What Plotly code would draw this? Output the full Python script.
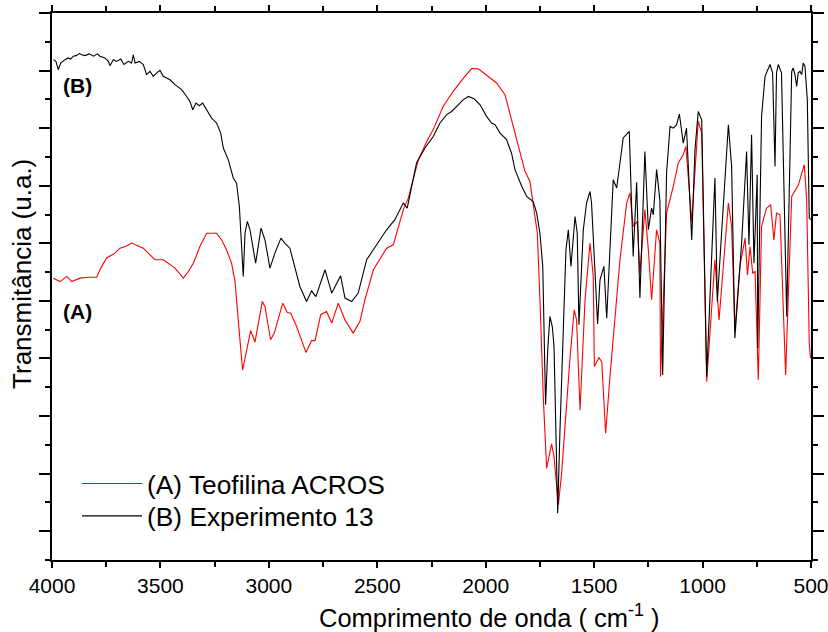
import plotly.graph_objects as go

# ---- Data ----
# (B) Experimento 13 : wavenumber (cm-1) and transmittance (arbitrary units)
wn_b = [3994, 3982, 3971, 3960, 3940, 3925, 3914, 3902, 3889, 3874, 3863, 3848, 3828, 3809, 3791, 3779,
        3756, 3740, 3733, 3717, 3702, 3683, 3668, 3648, 3633, 3625, 3617, 3597, 3579, 3564, 3548, 3533,
        3517, 3502, 3487, 3456, 3433, 3402, 3379, 3364, 3351, 3336, 3321, 3305, 3287, 3264, 3241, 3222,
        3210, 3187, 3164, 3149, 3136, 3126, 3118, 3110, 3099, 3087, 3061, 3036, 3018, 2995, 2972, 2944,
        2926, 2903, 2880, 2857, 2826, 2803, 2783, 2764, 2741, 2710, 2687, 2669, 2649, 2618, 2588, 2565,
        2549, 2503, 2457, 2419, 2380, 2362, 2334, 2319, 2280, 2242, 2211, 2180, 2157, 2134, 2103, 2080,
        2054, 2026, 1996, 1973, 1957, 1934, 1904, 1881, 1865, 1834, 1811, 1781, 1765, 1750, 1737, 1724,
        1714, 1704, 1693, 1685, 1676, 1668, 1658, 1642, 1630, 1619, 1607, 1588, 1578, 1570, 1550, 1535,
        1519, 1512, 1499, 1484, 1473, 1455, 1442, 1430, 1412, 1396, 1381, 1366, 1338, 1320, 1304, 1289,
        1266, 1250, 1235, 1227, 1212, 1197, 1184, 1166, 1150, 1135, 1120, 1107, 1089, 1074, 1050, 1035,
        1020, 1004, 981, 943, 932, 912, 881, 866, 851, 820, 797, 786, 774, 763, 748, 746, 728, 712, 689,
        677, 666, 659, 651, 636, 612, 589, 582, 574, 566, 559, 551, 543, 536, 528, 517, 508, 500]
t_b = [17.38, 17.32, 17.03, 17.26, 17.38, 17.44, 17.40, 17.50, 17.52, 17.59, 17.55, 17.52, 17.58, 17.50,
       17.58, 17.50, 17.44, 17.32, 17.17, 17.38, 17.32, 17.40, 17.21, 17.32, 17.26, 17.55, 17.26, 17.32,
       17.21, 16.86, 16.97, 16.80, 16.92, 17.01, 16.80, 16.68, 16.51, 16.34, 16.10, 15.93, 15.64, 15.87,
       15.78, 15.87, 15.64, 15.35, 15.18, 14.83, 14.31, 13.90, 13.27, 13.09, 12.28, 10.77, 9.85, 11.35,
       11.76, 11.47, 10.31, 11.53, 11.12, 10.14, 10.66, 11.18, 11.00, 10.83, 10.20, 9.50, 8.98, 9.35,
       9.15, 9.60, 10.08, 9.27, 9.62, 9.87, 9.10, 8.98, 9.27, 9.97, 10.43, 10.95, 11.47, 11.82, 12.40,
       12.22, 13.21, 13.79, 14.31, 14.71, 15.18, 15.47, 15.58, 15.76, 15.99, 16.10, 16.02, 15.81, 15.41,
       15.18, 15.12, 14.83, 14.60, 14.13, 13.56, 12.98, 12.63, 12.45, 12.05, 11.35, 10.20, 5.39, 7.30,
       8.46, 8.11, 7.41, 4.40, 1.62, 4.40, 8.11, 10.77, 11.47, 10.20, 11.93, 11.35, 8.17, 11.47, 12.40,
       12.80, 12.40, 10.20, 8.20, 9.73, 10.20, 8.40, 10.20, 13.21, 12.92, 13.90, 14.66, 14.89, 10.54,
       13.12, 9.10, 14.19, 11.47, 12.22, 11.99, 13.56, 12.51, 6.43, 13.44, 15.06, 15.00, 15.12, 15.49,
       14.48, 15.00, 11.12, 14.25, 15.58, 15.29, 6.37, 13.27, 8.98, 11.47, 15.12, 13.67, 7.70, 11.01,
       14.19, 10.95, 14.77, 10.31, 13.38, 7.36, 15.41, 16.80, 17.21, 16.92, 13.67, 16.92, 17.21, 16.92,
       8.46, 16.97, 17.09, 16.86, 16.45, 16.92, 16.97, 16.86, 17.26, 17.15, 15.99, 11.88, 11.82]

# (A) Teofilina ACROS
wn_a = [3994, 3963, 3932, 3909, 3871, 3833, 3794, 3771, 3748, 3710, 3686, 3656, 3633, 3602, 3579, 3548,
        3525, 3487, 3456, 3433, 3394, 3371, 3348, 3318, 3287, 3241, 3218, 3195, 3172, 3156, 3136, 3121,
        3102, 3084, 3064, 3030, 3018, 2992, 2975, 2936, 2915, 2899, 2872, 2829, 2803, 2787, 2761, 2734,
        2710, 2680, 2649, 2611, 2580, 2557, 2518, 2457, 2426, 2380, 2357, 2311, 2272, 2242, 2196, 2150,
        2096, 2065, 2034, 1988, 1950, 1911, 1873, 1842, 1819, 1796, 1781, 1762, 1750, 1734, 1719, 1696,
        1685, 1665, 1650, 1627, 1612, 1592, 1581, 1565, 1542, 1519, 1504, 1499, 1478, 1465, 1447, 1427,
        1404, 1381, 1350, 1335, 1320, 1301, 1289, 1266, 1250, 1235, 1212, 1197, 1194, 1166, 1135, 1112,
        1089, 1077, 1050, 1020, 1004, 981, 943, 924, 881, 866, 851, 828, 804, 793, 781, 769, 758, 743,
        728, 705, 686, 671, 659, 643, 617, 589, 558, 531, 520, 508, 502]
t_a = [9.79, 9.67, 9.85, 9.67, 9.79, 9.82, 9.82, 10.20, 10.49, 10.66, 10.83, 10.91, 11.01, 10.91, 10.83,
       10.60, 10.43, 10.43, 10.25, 10.14, 9.79, 10.02, 10.31, 10.89, 11.35, 11.35, 11.12, 10.77, 10.31,
       9.67, 7.88, 6.60, 7.30, 7.97, 7.57, 8.98, 8.80, 7.65, 7.88, 8.92, 8.60, 8.57, 8.11, 7.21, 7.62,
       7.62, 8.52, 8.63, 8.23, 8.92, 8.34, 7.88, 8.29, 9.04, 10.08, 10.83, 10.95, 12.17, 12.57, 13.90,
       14.54, 14.95, 15.76, 16.28, 16.80, 17.07, 17.06, 16.80, 16.57, 16.16, 15.06, 14.25, 13.50, 13.15,
       12.28, 11.35, 9.04, 5.56, 3.19, 4.03, 3.59, 1.91, 3.01, 5.56, 6.95, 8.69, 8.34, 5.21, 9.04, 11.01,
       9.85, 6.72, 7.03, 6.89, 4.40, 6.37, 8.46, 10.43, 12.40, 12.75, 11.59, 11.76, 9.96, 12.17, 10.77,
       9.04, 11.47, 11.01, 6.37, 12.05, 12.98, 13.79, 14.08, 14.37, 11.76, 15.24, 14.83, 6.20, 10.43,
       8.34, 12.40, 11.59, 7.99, 10.20, 11.18, 9.90, 10.89, 9.97, 10.02, 6.26, 11.59, 12.22, 12.34,
       11.12, 12.05, 11.99, 6.43, 12.63, 13.03, 13.73, 12.51, 7.53, 7.01]

series_names = ["(A) Teofilina ACROS", "(B) Experimento 13"]
x_ticks = [4000, 3500, 3000, 2500, 2000, 1500, 1000, 500]
x_minor_ticks = [3750, 3250, 2750, 2250, 1750, 1250, 750]

FONT = "Liberation Sans, Arial, Helvetica, sans-serif"

fig = go.Figure()
fig.add_trace(go.Scatter(x=wn_a, y=t_a, mode="lines", name=series_names[0],
                         line=dict(color="#ff0000", width=1.1), legend="legend"))
fig.add_trace(go.Scatter(x=wn_b, y=t_b, mode="lines", name=series_names[1],
                         line=dict(color="#000000", width=1.1), legend="legend2"))

legend_common = dict(xanchor="left", yanchor="middle", bgcolor="rgba(0,0,0,0)", borderwidth=0,
                     font=dict(size=26.3, family=FONT, color="black"), itemwidth=60)

fig.update_layout(
    width=828, height=632,
    margin=dict(l=52, r=17, t=13, b=72, autoexpand=False),
    paper_bgcolor="white", plot_bgcolor="white",
    font=dict(family=FONT, color="black"),
    showlegend=True,
    legend=dict(x=0.033, y=0.139, **legend_common),
    legend2=dict(x=0.033, y=0.080, **legend_common),
    xaxis=dict(range=[4000, 500], autorange=False,
               tickmode="array", tickvals=x_ticks, ticktext=[str(v) for v in x_ticks],
               ticks="outside", ticklen=6, tickwidth=1.6, tickcolor="black",
               showline=True, linewidth=2, linecolor="black", mirror="ticks",
               showgrid=False, zeroline=False, ticklabeloverflow="allow",
               tickfont=dict(size=21, family=FONT, color="black"),
               minor=dict(ticks="outside", ticklen=5, tickwidth=1.6, tickcolor="black",
                          tickmode="array", tickvals=x_minor_ticks, showgrid=False)),
    yaxis=dict(range=[0, 19], autorange=False,
               tick0=1, dtick=2, showticklabels=False,
               ticks="outside", ticklen=11, tickwidth=1.6, tickcolor="black",
               showline=True, linewidth=2, linecolor="black", mirror="ticks",
               showgrid=False, zeroline=False,
               minor=dict(ticks="outside", ticklen=5, tickwidth=1.6, tickcolor="black",
                          dtick=1, tick0=0, showgrid=False)),
)

annotations = [
    dict(text="Comprimento de onda ( cm<sup>-1</sup> )", xref="paper", yref="paper",
         x=0.576, y=-0.102, xanchor="center", yanchor="middle", showarrow=False,
         font=dict(size=25.5, family=FONT, color="black")),
    dict(text="Transmitância (u.a.)", xref="paper", yref="paper",
         x=-0.0395, y=0.523, xanchor="center", yanchor="middle", textangle=-90, showarrow=False,
         font=dict(size=26, family=FONT, color="black")),
    dict(text="<b>(B)</b>", xref="paper", yref="paper", x=0.033, y=0.868,
         xanchor="center", yanchor="middle", showarrow=False,
         font=dict(size=21, family=FONT, color="black")),
    dict(text="<b>(A)</b>", xref="paper", yref="paper", x=0.033, y=0.455,
         xanchor="center", yanchor="middle", showarrow=False,
         font=dict(size=21, family=FONT, color="black")),
]
fig.update_layout(annotations=annotations)

fig.write_html("out.html", config={"displayModeBar": False},
               post_script="document.body.style.margin='0';document.body.style.padding='0';")
